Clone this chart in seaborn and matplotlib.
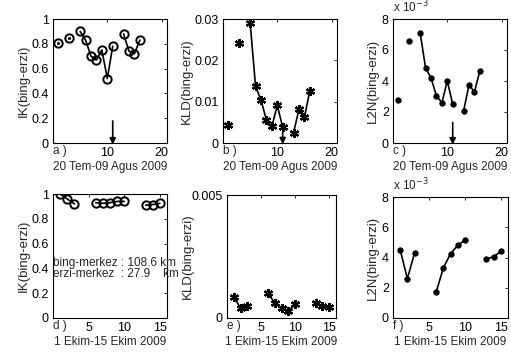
import matplotlib
matplotlib.use("Agg")
import matplotlib.pyplot as plt
import seaborn as sns
import pandas as pd
from matplotlib.ticker import FuncFormatter

# ---- data ----
top_days = [1, 3, 5, 6, 7, 8, 9, 10, 11, 13, 14, 15, 16]
top_seg = [0, 1, 2, 2, 2, 2, 2, 2, 2, 3, 3, 3, 3]
ik_top = [0.81, 0.85, 0.90, 0.83, 0.70, 0.67, 0.75, 0.52, 0.78, 0.88, 0.74, 0.72, 0.83]
kld_top = [0.0044, 0.0243, 0.0290, 0.0137, 0.0104, 0.0055, 0.0040, 0.0091, 0.0038,
           0.0025, 0.0082, 0.0062, 0.0127]
l2n_top = [2.8e-3, 6.6e-3, 7.1e-3, 4.85e-3, 4.2e-3, 3.05e-3, 2.6e-3, 4.0e-3, 2.5e-3,
           2.05e-3, 3.75e-3, 3.3e-3, 4.65e-3]

bot_days = [1, 2, 3, 6, 7, 8, 9, 10, 13, 14, 15]
bot_seg = [0, 0, 0, 1, 1, 1, 1, 1, 2, 2, 2]
ik_bot = [1.0, 0.96, 0.92, 0.93, 0.925, 0.93, 0.94, 0.94, 0.91, 0.915, 0.925]
kld_bot = [0.00087, 0.00039, 0.00050, 0.00101, 0.00062, 0.00039, 0.00029, 0.00055,
           0.00060, 0.00047, 0.00043]
l2n_bot = [4.5e-3, 2.6e-3, 4.3e-3, 1.7e-3, 3.3e-3, 4.25e-3, 4.8e-3, 5.15e-3,
           3.9e-3, 4.05e-3, 4.4e-3]

event_day = 11
top_xlabel = "20 Tem-09 Agus 2009"
bot_xlabel = "1 Ekim-15 Ekim 2009"
ylab_ik = "IK(bing-erzi)"
ylab_kld = "KLD(bing-erzi)"
ylab_l2n = "L2N(bing-erzi)"
dist_text = ["bing-merkez : 108.6 km", "erzi-merkez  : 27.9    km"]

sns.set_theme(style="white")
plt.rcParams['font.family'] = ['Liberation Sans', 'DejaVu Sans']
plt.rcParams['font.size'] = 8

FS_T = 9      # tick labels
FS_X = 8.5    # x labels
FS_Y = 9.5    # y labels
FS = 8.5      # other text
W, H = 511, 354
fig = plt.figure(figsize=(W / 100, H / 100), dpi=100)


def add_ax(l, t, r, b):
    return fig.add_axes([l / W, 1 - b / H, (r - l) / W, (b - t) / H])


ax_a = add_ax(53, 19, 167, 143)
ax_b = add_ax(223, 19, 337, 143)
ax_c = add_ax(393, 19, 507, 143)
ax_d = add_ax(53, 194, 167, 318)
ax_e = add_ax(227, 195, 336, 318)
ax_f = add_ax(393, 197, 508, 318)

df_top = pd.DataFrame({"day": top_days, "seg": top_seg, "ik": ik_top,
                       "kld": kld_top, "l2n": l2n_top})
df_bot = pd.DataFrame({"day": bot_days, "seg": bot_seg, "ik": ik_bot,
                       "kld": kld_bot, "l2n": l2n_bot})

circ = dict(marker="o", markersize=6, markerfacecolor="none",
            markeredgecolor="black", markeredgewidth=1.4)
star = dict(marker=(6, 2, 0), markersize=6.5, markeredgecolor="black",
            markeredgewidth=1.6)
dot = dict(marker="o", markersize=3.8, markerfacecolor="black",
           markeredgecolor="black")


def draw(ax, df, col, mk):
    sns.lineplot(data=df, x="day", y=col, units="seg", estimator=None, ax=ax,
                 color="black", linewidth=1.2, legend=False, **mk)


draw(ax_a, df_top, "ik", circ)
draw(ax_b, df_top, "kld", star)
draw(ax_c, df_top, "l2n", dot)
draw(ax_d, df_bot, "ik", circ)
draw(ax_e, df_bot, "kld", star)
draw(ax_f, df_bot, "l2n", dot)

# small centre dots on isolated circles in panel a
iso = df_top[df_top["seg"] <= 1]
ax_a.plot(iso["day"], iso["ik"], ".", color="black", markersize=2.5)

for ax in (ax_a, ax_b, ax_c):
    ax.set_xlim(0, 21)
    ax.set_xticks([10, 20])
    ax.set_xlabel(top_xlabel, labelpad=1, fontsize=FS_X)
for ax in (ax_d, ax_e, ax_f):
    ax.set_xlim(0, 16)
    ax.set_xticks([5, 10, 15])
    ax.set_xlabel(bot_xlabel, labelpad=1, fontsize=FS_X)

ax_a.set_ylim(0, 1)
ax_a.set_yticks([0, 0.2, 0.4, 0.6, 0.8, 1])
ax_a.set_yticklabels(["0", "0.2", "0.4", "0.6", "0.8", "1"])
ax_d.set_ylim(0, 1)
ax_d.set_yticks([0, 0.2, 0.4, 0.6, 0.8, 1])
ax_d.set_yticklabels(["0", "0.2", "0.4", "0.6", "0.8", "1"])
ax_b.set_ylim(0, 0.03)
ax_b.set_yticks([0, 0.01, 0.02, 0.03])
ax_b.set_yticklabels(["0", "0.01", "0.02", "0.03"])
ax_e.set_ylim(0, 0.005)
ax_e.set_yticks([0, 0.005])
ax_e.set_yticklabels(["0", "0.005"])
for ax in (ax_c, ax_f):
    ax.set_ylim(0, 8e-3)
    ax.set_yticks([0, 2e-3, 4e-3, 6e-3, 8e-3])
    ax.yaxis.set_major_formatter(FuncFormatter(lambda v, p: f"{v * 1e3:g}"))
    ax.text(0.0, 1.03, r"x 10$^{-3}$", transform=ax.transAxes, fontsize=FS,
            ha="left", va="bottom")

ax_a.set_ylabel(ylab_ik, labelpad=1, fontsize=FS_Y)
ax_d.set_ylabel(ylab_ik, labelpad=1, fontsize=FS_Y)
ax_b.set_ylabel(ylab_kld, labelpad=1, fontsize=FS_Y)
ax_e.set_ylabel(ylab_kld, labelpad=-2, fontsize=FS_Y)
ax_c.set_ylabel(ylab_l2n, labelpad=2, fontsize=FS_Y)
ax_f.set_ylabel(ylab_l2n, labelpad=2, fontsize=FS_Y)

for ax in (ax_a, ax_b, ax_c, ax_d, ax_e, ax_f):
    for s in ax.spines.values():
        s.set_visible(True)
        s.set_color("black")
        s.set_linewidth(0.8)
    ax.tick_params(direction="in", length=2.5, width=0.6, top=True, right=True,
                   labelsize=FS_T, colors="black")
    ax.tick_params(axis="x", pad=3)
    ax.tick_params(axis="y", pad=3)
    ax.set_facecolor("white")
    ax.grid(False)

# panel letters
for ax, lab in zip((ax_a, ax_b, ax_c, ax_d, ax_e, ax_f),
                   ("a )", "b )", "c )", "d )", "e )", "f )")):
    ax.text(0.0, -0.015, lab, transform=ax.transAxes, ha="left", va="top",
            fontsize=FS)

# event arrows
arrow_kw = dict(arrowstyle="-|>", color="black", lw=1.2, mutation_scale=9)
ax_a.annotate("", xy=(event_day, -0.035), xytext=(event_day, 0.2),
              arrowprops=arrow_kw, annotation_clip=False)
ax_b.annotate("", xy=(event_day, -0.001), xytext=(event_day, 0.0035),
              arrowprops=arrow_kw, annotation_clip=False)
ax_c.annotate("", xy=(event_day, -0.28e-3), xytext=(event_day, 1.5e-3),
              arrowprops=arrow_kw, annotation_clip=False)

# distance text
ax_d.text(0.0, 0.445, dist_text[0], fontsize=FS, ha="left", va="center",
          transform=ax_d.get_yaxis_transform(), clip_on=False)
ax_d.text(0.0, 0.355, dist_text[1], fontsize=FS, ha="left", va="center",
          transform=ax_d.get_yaxis_transform(), clip_on=False)

fig.savefig("out.png", dpi=100, facecolor="white")
